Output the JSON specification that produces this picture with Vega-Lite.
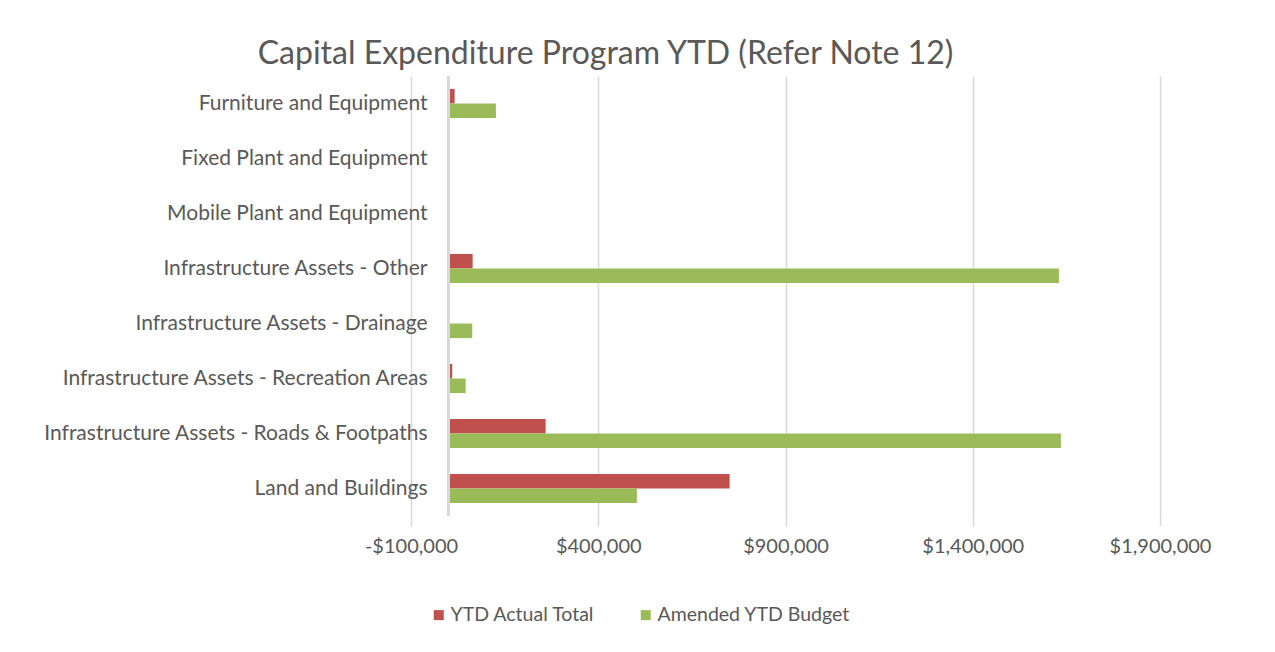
{
  "$schema": "https://vega.github.io/schema/vega-lite/v6.json",
  "width": 749,
  "height": 440,
  "autosize": {"type": "none"},
  "padding": {"left": 411, "top": 76, "right": 115, "bottom": 136},
  "background": "white",
  "title": {
    "text": "Capital Expenditure Program YTD (Refer Note 12)",
    "font": "Lato",
    "fontSize": 32,
    "fontWeight": "normal",
    "color": "#595959",
    "anchor": "middle",
    "dx": -180,
    "offset": 4
  },
  "config": {
    "view": {"stroke": null},
    "font": "Lato"
  },
  "data": {
    "values": [
      {"category": "Furniture and Equipment", "series": "YTD Actual Total", "value": 16500},
      {"category": "Furniture and Equipment", "series": "Amended YTD Budget", "value": 126800},
      {"category": "Fixed Plant and Equipment", "series": "YTD Actual Total", "value": 3000},
      {"category": "Fixed Plant and Equipment", "series": "Amended YTD Budget", "value": 2000},
      {"category": "Mobile Plant and Equipment", "series": "YTD Actual Total", "value": 0},
      {"category": "Mobile Plant and Equipment", "series": "Amended YTD Budget", "value": 1500},
      {"category": "Infrastructure Assets - Other", "series": "YTD Actual Total", "value": 64600},
      {"category": "Infrastructure Assets - Other", "series": "Amended YTD Budget", "value": 1630000},
      {"category": "Infrastructure Assets - Drainage", "series": "YTD Actual Total", "value": 0},
      {"category": "Infrastructure Assets - Drainage", "series": "Amended YTD Budget", "value": 63600},
      {"category": "Infrastructure Assets - Recreation Areas", "series": "YTD Actual Total", "value": 10000},
      {"category": "Infrastructure Assets - Recreation Areas", "series": "Amended YTD Budget", "value": 45900},
      {"category": "Infrastructure Assets - Roads & Footpaths", "series": "YTD Actual Total", "value": 259500},
      {"category": "Infrastructure Assets - Roads & Footpaths", "series": "Amended YTD Budget", "value": 1635400},
      {"category": "Land and Buildings", "series": "YTD Actual Total", "value": 750800},
      {"category": "Land and Buildings", "series": "Amended YTD Budget", "value": 503300}
    ]
  },
  "layer": [
    {
      "mark": {"type": "bar"},
      "encoding": {
        "y": {
          "field": "category",
          "type": "nominal",
          "sort": null,
          "scale": {"paddingInner": 0.47, "paddingOuter": 0.235},
          "axis": {
            "title": null,
            "ticks": false,
            "domain": false,
            "labelPadding": -16,
            "labelFontSize": 21,
            "labelLimit": 0,
            "labelColor": "#595959",
            "labelFont": "Lato"
          }
        },
        "yOffset": {
          "field": "series",
          "type": "nominal",
          "sort": ["YTD Actual Total", "Amended YTD Budget"],
          "scale": {"paddingInner": 0, "paddingOuter": 0}
        },
        "x": {
          "field": "value",
          "type": "quantitative",
          "scale": {"domain": [-100000, 1900000], "nice": false, "zero": false},
          "axis": {
            "title": null,
            "values": [-100000, 400000, 900000, 1400000, 1900000],
            "labelExpr": "replace(format(datum.value, '$,.0f'), '\u2212', '-')",
            "labelFlush": false,
            "grid": true,
            "gridColor": "#d9d9d9",
            "gridWidth": 1.5,
            "domain": false,
            "ticks": true,
            "tickSize": 10,
            "tickColor": "#d9d9d9",
            "tickWidth": 1.5,
            "labelPadding": 10,
            "labelFontSize": 20,
            "labelColor": "#595959",
            "labelFont": "Lato"
          }
        },
        "color": {
          "field": "series",
          "type": "nominal",
          "sort": ["YTD Actual Total", "Amended YTD Budget"],
          "scale": {"domain": ["YTD Actual Total", "Amended YTD Budget"], "range": ["#C0504D", "#9BBB59"]},
          "legend": {
            "title": null,
            "orient": "none",
            "legendX": 18,
            "legendY": 529,
            "direction": "horizontal",
            "symbolType": "square",
            "symbolSize": 100,
            "symbolStrokeWidth": 0,
            "labelFontSize": 19.5,
            "labelLimit": 0,
            "labelColor": "#595959",
            "labelFont": "Lato",
            "labelOffset": 2,
            "columnPadding": 41
          }
        }
      }
    },
    {
      "mark": {"type": "rule", "color": "#d9d9d9", "strokeWidth": 2},
      "encoding": {"x": {"datum": 0}}
    }
  ]
}
